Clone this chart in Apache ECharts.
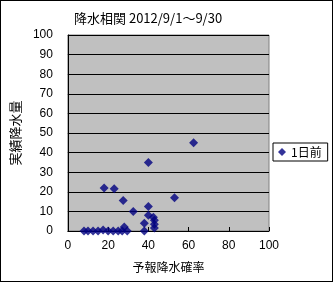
<!DOCTYPE html>
<html><head><meta charset="utf-8">
<script src="https://cdn.jsdelivr.net/npm/echarts@6/dist/echarts.min.js"></script>
<style>html,body{margin:0;padding:0;background:#fff}#c{width:333px;height:282px;box-sizing:border-box;border:1px solid #000}</style>
</head><body><div id="c"></div>
<script>
var titleText = "降水相関 2012/9/1～9/30";
var seriesName = "1日前";
var xName = "予報降水確率";
var yName = "実績降水量";
var forecastPct = [8,10,12.5,15,17.5,20,22.5,25,27,29.5,28,38,38,32.5,27.5,18,23,40,62.5,53,40,40,42.5,43,43,43];
var actualMm    = [0,0,0,0,0.5,0,0,0,0,0,2,0,4,10,15.5,22,21.5,35,45,17,12.5,8,7,5.5,3.5,1.5];
var data = forecastPct.map(function(x,i){return [x, actualMm[i]];});
var font = "'Noto Sans CJK JP', sans-serif";
var chart = echarts.init(document.getElementById('c'));
chart.setOption({
  animation:false,
  textStyle:{fontFamily:font},
  title:{text:titleText,left:68,top:6,textStyle:{fontSize:13,fontWeight:'normal',color:'#000',fontFamily:font}},
  legend:{data:[seriesName],left:272,top:142,orient:'vertical',borderColor:'#000',borderWidth:1,padding:[3,6,3,5],
    itemWidth:8,itemHeight:8,itemGap:4,icon:'diamond',textStyle:{fontSize:12,color:'#000',fontFamily:font}},
  grid:{left:62,right:63,top:34,bottom:50,show:true,backgroundColor:'#C0C0C0',borderColor:'#808080',borderWidth:1},
  xAxis:{type:'value',min:0,max:100,interval:20,
    name:xName,nameLocation:'middle',nameGap:30,nameTextStyle:{fontSize:12,color:'#000',fontFamily:font},
    axisLine:{show:true,lineStyle:{color:'#000'}},axisTick:{show:true,inside:true,length:4,lineStyle:{color:'#000'}},
    axisLabel:{fontSize:12,color:'#000',margin:9,fontFamily:'Liberation Sans, sans-serif'},splitLine:{show:false}},
  yAxis:{type:'value',min:0,max:100,interval:10,
    name:yName,nameLocation:'middle',nameGap:34,nameRotate:90,nameTextStyle:{fontSize:13,color:'#000',fontFamily:font},
    axisLine:{show:true,lineStyle:{color:'#000'}},axisTick:{show:true,inside:true,length:4,lineStyle:{color:'#000'}},
    axisLabel:{fontSize:12,color:'#000',margin:15,fontFamily:'Liberation Sans, sans-serif'},
    splitLine:{show:true,lineStyle:{color:'#000',width:1}}},
  series:[{name:seriesName,type:'scatter',data:data,symbol:'diamond',symbolSize:9,itemStyle:{color:'#000080'}}]
});
</script></body></html>
